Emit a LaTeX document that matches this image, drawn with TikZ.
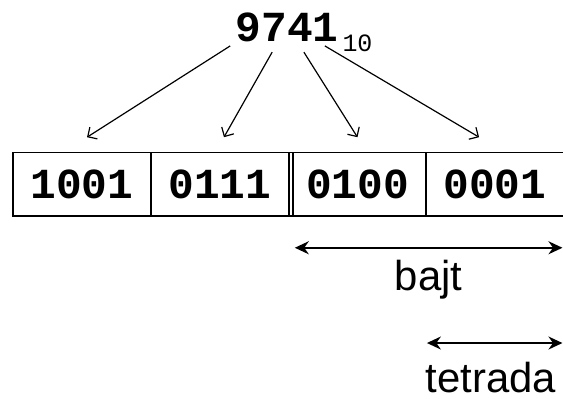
\documentclass[tikz,border=0pt]{standalone}
\usepackage{fontspec}
\setmainfont{Liberation Sans}
\newfontfamily\monofam{Liberation Mono}
\usetikzlibrary{arrows.meta,positioning}

\begin{document}
\begin{tikzpicture}[
    cell/.style={draw, line width=0.75pt,
        minimum width=2.43cm, minimum height=1.12cm,
        inner sep=0pt, outer sep=0pt,
        font=\fontsize{21.5}{26}\selectfont\monofam\bfseries},
    pointer/.style={-{Straight Barb[length=3.5pt,width=7pt]}, line width=0.6pt},
    span/.style={{Stealth[length=7pt,width=6.5pt]}-{Stealth[length=7pt,width=6.5pt]},
        line width=1pt},
    spanlabel/.style={font=\fontsize{21}{26}\selectfont, anchor=base, inner sep=0pt}
]

\useasboundingbox (0,0) rectangle (9.93,-7.02);

% ── Liczba dziesiętna ───────────────────────────────────────
\node[anchor=base west, inner sep=0pt,
      font=\fontsize{21.5}{26}\selectfont\monofam\bfseries]
    (num) at (4.15,-0.74)
    {9741\kern2pt\raisebox{-5pt}{\fontsize{12.5}{15}\selectfont\mdseries 10}};

% ── Tetrady BCD ─────────────────────────────────────────────
\node[cell, anchor=north west] (n1) at (0.23,-2.69) {1001};
\node[cell, right=0pt of n1, minimum width=2.44cm] (n2) {0111};
\node[cell, right=0pt of n2, minimum width=2.41cm] (n3) {0100};
\node[cell, right=0pt of n3, minimum width=2.44cm] (n4) {0001};

% podwójna kreska między bajtami
\draw[line width=0.75pt]
    ([xshift=0.07cm]n3.north west) -- ([xshift=0.07cm]n3.south west);

% ── Strzałki od cyfr do tetrad ──────────────────────────────
\coordinate (s1) at (4.06,-0.81);
\coordinate (s2) at (4.80,-0.92);
\coordinate (s3) at (5.36,-0.92);
\coordinate (s4) at (5.73,-0.81);

\draw[pointer] (s1) -- ([xshift=0.09cm,yshift=0.27cm]n1.north);
\draw[pointer] (s2) -- ([xshift=0.07cm,yshift=0.27cm]n2.north);
\draw[pointer] (s3) -- ([yshift=0.27cm]n3.north);
\draw[pointer] (s4) -- ([xshift=-0.28cm,yshift=0.27cm]n4.north);

% ── Zakresy: bajt i tetrada ─────────────────────────────────
\coordinate (bajtL) at (5.20,-4.37);
\coordinate (bajtR) at (9.92,-4.37);
\draw[span] (bajtL) -- (bajtR);
\node[spanlabel] (bajt) at (7.56,-5.13) {bajt};

\coordinate (tetL) at (7.53,-6.05);
\coordinate (tetR) at (9.92,-6.05);
\draw[span] (tetL) -- (tetR);
\node[spanlabel] (tetrada) at (8.66,-6.93) {tetrada};

\end{tikzpicture}
\end{document}
